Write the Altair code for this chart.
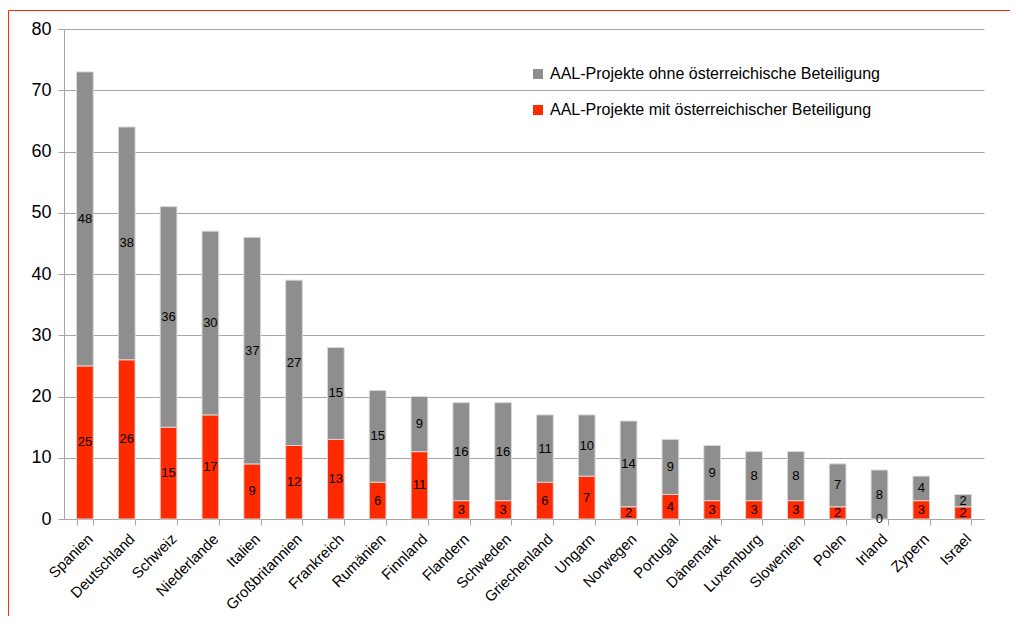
import altair as alt
import pandas as pd

countries = ["Spanien", "Deutschland", "Schweiz", "Niederlande", "Italien", "Großbritannien",
             "Frankreich", "Rumänien", "Finnland", "Flandern", "Schweden", "Griechenland",
             "Ungarn", "Norwegen", "Portugal", "Dänemark", "Luxemburg", "Slowenien",
             "Polen", "Irland", "Zypern", "Israel"]
mit = [25, 26, 15, 17, 9, 12, 13, 6, 11, 3, 3, 6, 7, 2, 4, 3, 3, 3, 2, 0, 3, 2]
ohne = [48, 38, 36, 30, 37, 27, 15, 15, 9, 16, 16, 11, 10, 14, 9, 9, 8, 8, 7, 8, 4, 2]

s_ohne = "AAL-Projekte ohne österreichische Beteiligung"
s_mit = "AAL-Projekte mit österreichischer Beteiligung"

rows = []
for c, m, o in zip(countries, mit, ohne):
    rows.append({"country": c, "series": s_mit, "value": m, "ord": 0})
    rows.append({"country": c, "series": s_ohne, "value": o, "ord": 1})
df = pd.DataFrame(rows)

FONT = "Liberation Sans, Arial"
GRAY = "#8e8e8e"
RED = "#ff2a00"

base = alt.Chart(df).transform_stack(
    stack="value", groupby=["country"], sort=[alt.SortField("ord", order="ascending")],
    as_=["y0", "y1"]
).transform_calculate(mid="(datum.y0 + datum.y1) / 2")

xenc = alt.X("country:N", sort=countries, title=None,
             scale=alt.Scale(paddingInner=0.6, paddingOuter=0.3),
             axis=alt.Axis(labelAngle=-45, labelFontSize=15, labelFont=FONT, labelColor="#000000",
                           domainColor="#a6a6a6", tickColor="#a6a6a6", tickBand="extent",
                           tickSize=6, labelPadding=6))

bars = base.mark_bar(stroke="#d8d8d8", strokeWidth=1).encode(
    x=xenc,
    y=alt.Y("y0:Q", title=None, scale=alt.Scale(domain=[0, 80]),
            axis=alt.Axis(values=[0, 10, 20, 30, 40, 50, 60, 70, 80], labelFontSize=18,
                          labelFont=FONT, labelColor="#000000", domainColor="#a6a6a6",
                          tickColor="#a6a6a6", tickSize=6, gridColor="#a6a6a6",
                          labelPadding=7)),
    y2="y1:Q",
    color=alt.Color("series:N", scale=alt.Scale(domain=[s_ohne, s_mit], range=[GRAY, RED]),
                    legend=alt.Legend(title=None, orient="none", legendX=466, legendY=37,
                                      symbolType="square", symbolSize=100, symbolStrokeWidth=0,
                                      labelFontSize=16, labelFont=FONT, labelColor="#000000",
                                      labelLimit=0, rowPadding=20, labelOffset=4)),
)

labels = base.mark_text(fontSize=13, font=FONT, color="#000000").encode(
    x=alt.X("country:N", sort=countries),
    y=alt.Y("mid:Q"),
    text=alt.Text("value:Q"),
)

frame_left = alt.Chart(alt.Data(values=[{}])).mark_rule(color=RED, strokeWidth=1).encode(
    x=alt.value(-55.5), y=alt.value(-18.5), y2=alt.value(620))
frame_top = alt.Chart(alt.Data(values=[{}])).mark_rule(color=RED, strokeWidth=1).encode(
    x=alt.value(-55.5), x2=alt.value(960), y=alt.value(-18.5))

chart = alt.layer(bars, labels, frame_left, frame_top).properties(
    width=920, height=490,
    autosize=alt.AutoSizeParams(type="none"),
    padding={"left": 56, "top": 21, "right": 26, "bottom": 97},
).configure_view(stroke=None)

chart.save("out.html", embed_options={"renderer": "svg", "actions": False})
